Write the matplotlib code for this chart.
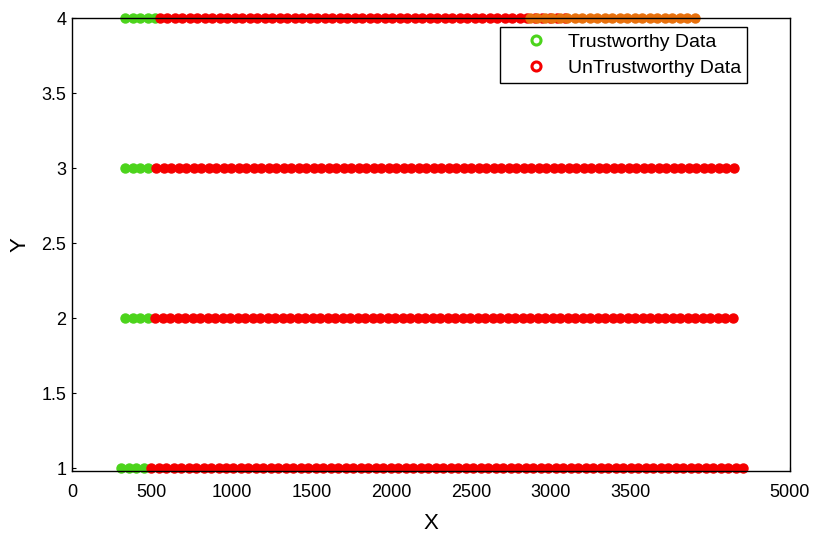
import numpy as np
import matplotlib
matplotlib.use("Agg")
from matplotlib import pyplot as plt
from matplotlib.lines import Line2D

plt.rcParams['font.family'] = ['Liberation Sans', 'DejaVu Sans']

# sample rows (Y) and where each run of samples sits along X
rows = [1, 2, 3, 4]
trust_start = [307, 335, 335, 335]
trust_count = [4, 4, 4, 5]
untrust_start = [495, 523, 529, 551]
untrust_count = [80, 78, 78, 55]
step = 47
# extra run on the top row
extra_start = 2870
extra_count = 23

x_ticks = [0, 500, 1000, 1500, 2000, 2500, 3000, 3500, 4500]
x_labels = ['0', '500', '1000', '1500', '2000', '2500', '3000', '3500', '5000']
y_ticks = [1, 1.5, 2, 2.5, 3, 3.5, 4]
y_labels = ['1', '1.5', '2', '2.5', '3', '3.5', '4']

green = '#4cd41c'
red = '#f50000'
orange = '#e8700c'

fig = plt.figure(figsize=(8.14, 5.33), dpi=100)
ax = fig.add_axes([0.0885, 0.1163, 0.882, 0.8499])

ms = 6.5
for y, gs, gn, rs, rn in zip(rows, trust_start, trust_count, untrust_start, untrust_count):
    gx = gs + step * np.arange(gn)
    rx = rs + step * np.arange(rn)
    ax.plot(gx, np.full(gn, y), 'o', color=green, ms=ms, mec=green, clip_on=False, zorder=3)
    ax.plot(rx, np.full(rn, y), 'o', color=red, ms=ms, mec=red, clip_on=False, zorder=3)

ox = extra_start + step * np.arange(extra_count)
ax.plot(ox, np.full(extra_count, rows[-1]), 'o', color=orange, ms=ms, mec=orange,
        clip_on=False, zorder=4)

ax.set_xlim(0, 4500)
ax.set_ylim(0.983, 4)
ax.set_xticks(x_ticks)
ax.set_xticklabels(x_labels, fontsize=13)
ax.set_yticks(y_ticks)
ax.set_yticklabels(y_labels, fontsize=13)
ax.tick_params(direction='in', length=3, width=0.8)
ax.tick_params(axis='x', pad=9)
ax.tick_params(axis='y', pad=4)
for s in ax.spines.values():
    s.set_linewidth(1.0)
    s.set_zorder(5)
ax.set_xlabel('X', fontsize=16, labelpad=9)
ax.set_ylabel('Y', fontsize=16, labelpad=8)

handles = [
    Line2D([], [], ls='none', marker='o', ms=6.5, mfc='white', mec=green, mew=2.2),
    Line2D([], [], ls='none', marker='o', ms=6.5, mfc='white', mec=red, mew=2.2),
]
leg = ax.legend(handles, ['Trustworthy Data', 'UnTrustworthy Data'],
                loc='upper right', bbox_to_anchor=(0.940, 0.980), fontsize=14,
                fancybox=False, framealpha=1, edgecolor='black',
                handlelength=3.13, handletextpad=0.05, borderpad=0.3,
                labelspacing=0.46, borderaxespad=0)
leg.get_frame().set_linewidth(1.0)
leg.set_zorder(6)

fig.savefig('out.png', dpi=100)
